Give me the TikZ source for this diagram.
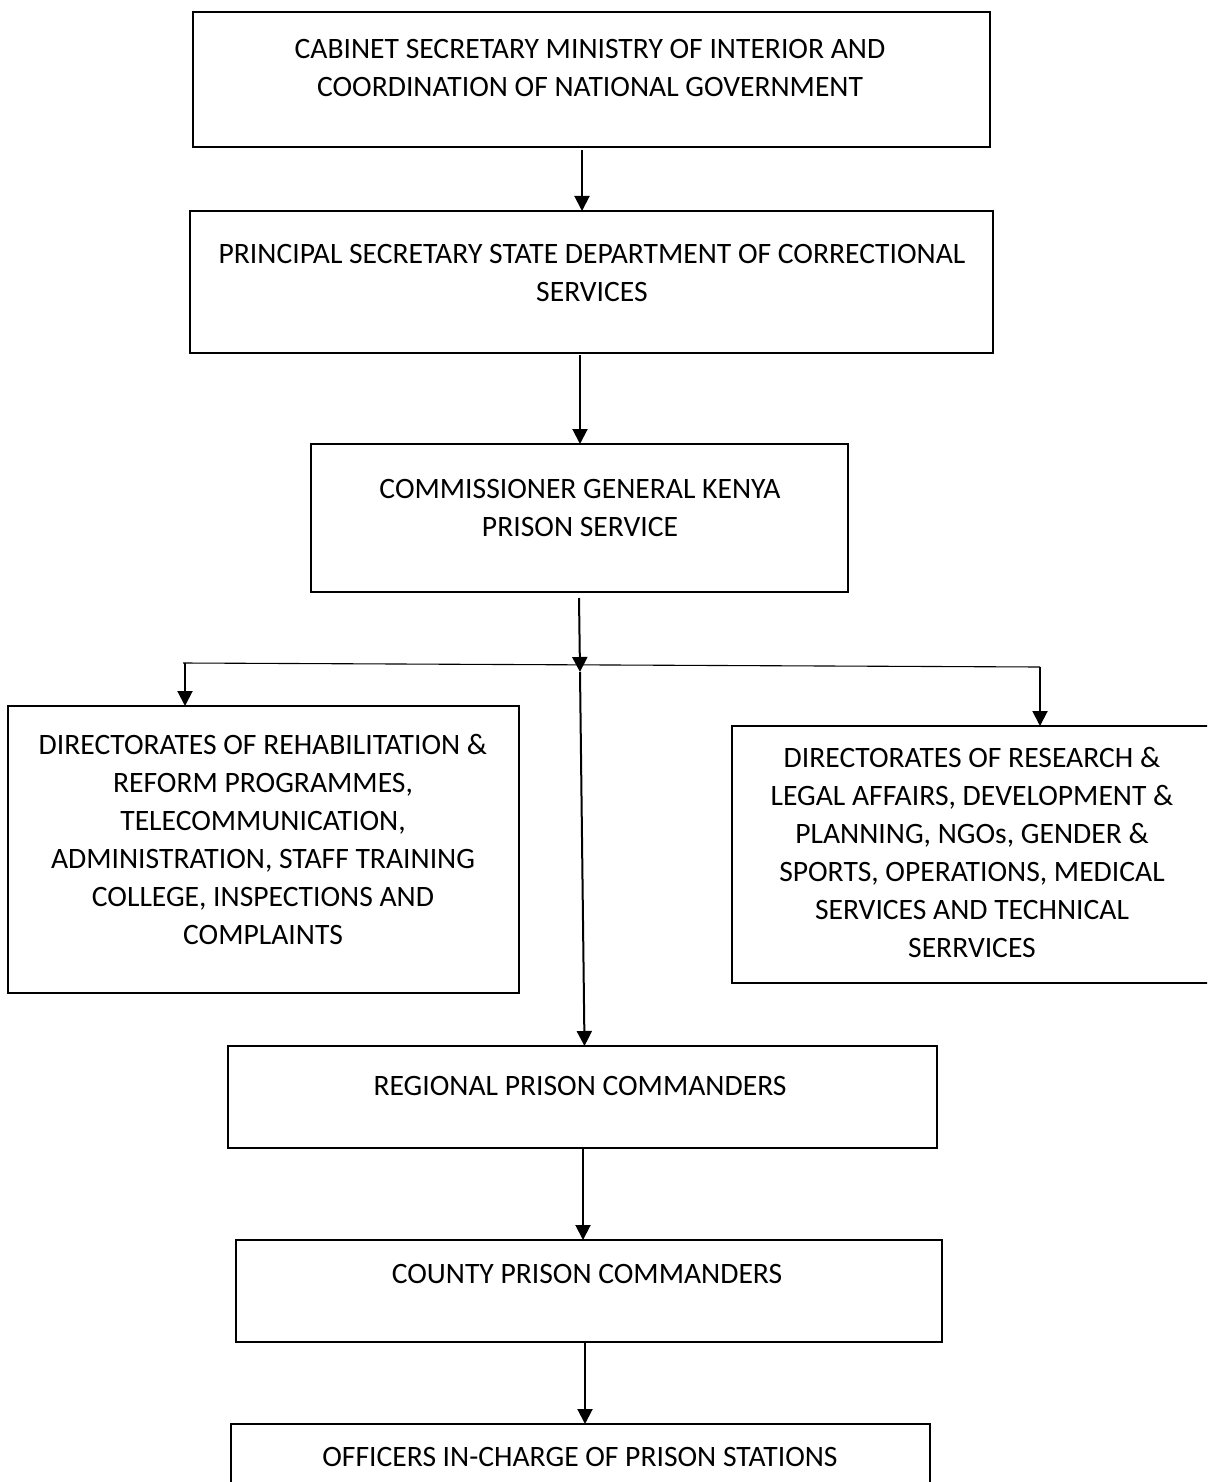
\documentclass[tikz,border=0pt]{standalone}
\usepackage{fontspec}
\setmainfont{Carlito}
\usetikzlibrary{arrows.meta}
\tikzset{
  box/.style={draw, line width=1.3pt, inner sep=0pt, outer sep=0pt, anchor=north west},
  txt/.style={font=\fontsize{14.8pt}{19pt}\selectfont, align=center, inner sep=0pt, anchor=north},
  arr/.style={line width=1pt, -{Triangle[length=7.5pt,width=7.5pt]}},
  thin/.style={line width=0.55pt}
}
\newcommand{\pbox}[5]{\node[box, minimum width={(#4-#2)*0.5pt}, minimum height={(#5-#3)*0.5pt}] (#1) at (#2,#3) {};}
\begin{document}
\begin{tikzpicture}[x=0.5pt,y=-0.5pt]
\useasboundingbox (0,0) rectangle (1207,1482);
\clip (0,0) rectangle (1207,1482);
\fill[white] (0,0) rectangle (1207,1482);
% boxes
\pbox{b1}{193}{12}{990}{147}
\pbox{b2}{190}{211}{993}{353}
\pbox{b3}{311}{444}{848}{592}
\pbox{bl}{8}{706}{519}{993}
\pbox{br}{732}{726}{1225}{983}
\pbox{b4}{228}{1046}{937}{1148}
\pbox{b5}{236}{1240}{942}{1342}
\pbox{b6}{231}{1424}{930}{1510}
% texts
\node[txt] (t1) at (590,39) {CABINET SECRETARY MINISTRY OF INTERIOR AND\\COORDINATION OF NATIONAL GOVERNMENT};
\node[txt] (t2) at (592,244) {PRINCIPAL SECRETARY STATE DEPARTMENT OF CORRECTIONAL\\SERVICES};
\node[txt] (t3) at (580,479) {COMMISSIONER GENERAL KENYA\\PRISON SERVICE};
\node[txt] (tl) at (263,734) {DIRECTORATES OF REHABILITATION \&\\REFORM PROGRAMMES,\\TELECOMMUNICATION,\\ADMINISTRATION, STAFF TRAINING\\COLLEGE, INSPECTIONS AND\\COMPLAINTS};
\node[txt] (tr) at (972,747) {DIRECTORATES OF RESEARCH \&\\LEGAL AFFAIRS, DEVELOPMENT \&\\PLANNING, NGOs, GENDER \&\\SPORTS, OPERATIONS, MEDICAL\\SERVICES AND TECHNICAL\\SERRVICES};
\node[txt] (t4) at (580,1076) {REGIONAL PRISON COMMANDERS};
\node[txt] (t5) at (587,1264) {COUNTY PRISON COMMANDERS};
\node[txt] (t6) at (580,1447) {OFFICERS IN-CHARGE OF PRISON STATIONS};
% connectors
\coordinate (j) at (580,672);
\coordinate (hl) at (183,663);
\coordinate (hr) at (1040,667);
\coordinate (dl) at (185,663);
\coordinate (d1) at (582,150);
\coordinate (d2) at (580,355);
\coordinate (d3) at (579,598);
\coordinate (d4) at (583,1149);
\coordinate (d5) at (585,1343);
\draw[arr] (d1) -- (d1 |- b2.north);
\draw[arr] (d2) -- (d2 |- b3.north);
\draw[arr] (d3) -- (j);
\draw[arr] (j) -- ([xshift=1pt]b4.north);
\draw[thin] (hl) -- (hr);
\draw[arr] (dl) -- (dl |- bl.north);
\draw[arr] (hr) -- (hr |- br.north);
\draw[arr] (d4) -- (d4 |- b5.north);
\draw[arr] (d5) -- (d5 |- b6.north);
\end{tikzpicture}
\end{document}
